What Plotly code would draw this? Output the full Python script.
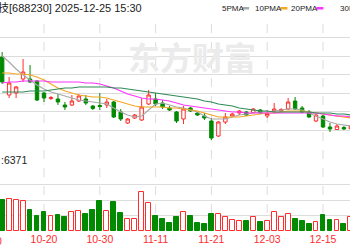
import plotly.graph_objects as go

# ---------------- data ----------------
dates = ["10-10", "10-13", "10-14", "10-15", "10-16", "10-17", "10-20", "10-21", "10-22", "10-23",
         "10-24", "10-27", "10-28", "10-29", "10-30", "10-31", "11-03", "11-04", "11-05", "11-06",
         "11-07", "11-10", "11-11", "11-12", "11-13", "11-14", "11-17", "11-18", "11-19", "11-20",
         "11-21", "11-24", "11-25", "11-26", "11-27", "11-28", "12-01", "12-02", "12-03", "12-04",
         "12-05", "12-08", "12-09", "12-10", "12-11", "12-12", "12-15", "12-16", "12-17", "12-18",
         "12-19"]

open_ = [60.3, 56.5, 56.7, 58.1, 58.1, 57.9, 56.7, 56.15, 56.1, 55.5,
         55.5, 55.9, 56.1, 55.4, 55.45, 55.5, 55.8, 54.8, 53.7, 54.2,
         54.0, 55.6, 56.1, 55.7, 55.2, 54.8, 54.1, 55.2, 54.7, 54.4,
         53.9, 52.4, 53.8, 54.4, 54.7, 54.8, 54.75, 55.0, 54.4, 54.9,
         54.9, 55.1, 55.9, 55.2, 54.8, 53.9, 54.4, 53.3, 53.05, 53.25,
         53.1]
high = [60.8, 58.3, 57.4, 60.1, 59.5, 58.0, 56.8, 56.4, 56.6, 55.8,
        56.5, 56.6, 56.5, 55.5, 56.7, 56.1, 55.9, 55.1, 54.2, 54.6,
        56.2, 57.0, 56.7, 56.0, 55.4, 54.9, 55.4, 55.3, 54.8, 54.7,
        54.2, 53.9, 54.7, 54.7, 55.0, 54.9, 55.2, 55.1, 55.0, 55.7,
        55.2, 56.2, 56.3, 55.4, 55.0, 54.6, 54.5, 53.7, 53.6, 53.4,
        53.5]
low = [57.6, 56.2, 56.2, 57.8, 57.7, 55.9, 55.8, 56.0, 55.5, 55.0,
       55.4, 55.8, 55.5, 55.0, 55.0, 55.2, 54.2, 53.9, 53.6, 54.1,
       53.9, 55.5, 55.4, 55.1, 54.9, 53.7, 53.6, 54.8, 54.4, 54.0,
       52.0, 52.3, 53.6, 54.3, 54.5, 54.4, 54.7, 54.6, 54.2, 54.7,
       54.8, 55.0, 55.0, 54.7, 54.2, 53.8, 53.2, 52.8, 53.0, 53.0,
       53.0]
close = [57.8, 57.7, 57.3, 58.8, 57.8, 56.0, 56.2, 56.25, 55.8, 55.3,
         55.9, 56.4, 55.7, 55.15, 55.35, 55.8, 54.3, 54.1, 54.1, 54.5,
         55.3, 56.5, 55.6, 55.3, 55.0, 53.9, 55.1, 54.9, 54.5, 54.2,
         52.2, 53.8, 54.3, 54.6, 54.9, 54.5, 55.1, 54.7, 54.65, 55.1,
         55.05, 55.8, 55.1, 54.8, 54.3, 54.5, 53.3, 53.1, 53.4, 53.1,
         53.4]

ma5 = [60.4, 59.8, 59.1, 58.5, 58.0, 57.5, 57.1, 56.8, 56.6, 56.4,
       56.2, 56.0, 55.9, 55.8, 55.7, 55.6, 55.2, 54.8, 54.5, 54.3,
       54.4, 55.0, 55.6, 55.7, 55.5, 55.3, 55.2, 55.0, 54.8, 54.4,
       54.1, 54.1, 54.1, 54.3, 54.5, 54.6, 54.7, 54.8, 54.8, 54.9,
       55.0, 55.1, 55.1, 55.0, 54.7, 54.4, 54.1, 53.8, 53.6, 53.5,
       53.4]
ma10 = [58.7, 58.7, 58.6, 58.6, 58.5, 58.3, 58.0, 57.6, 57.2, 56.9,
        56.7, 56.5, 56.4, 56.3, 56.3, 56.2, 56.0, 55.8, 55.6, 55.4,
        55.3, 55.3, 55.3, 55.3, 55.2, 55.2, 55.1, 55.0, 54.9, 54.7,
        54.5, 54.3, 54.3, 54.3, 54.3, 54.4, 54.5, 54.6, 54.7, 54.7,
        54.8, 54.9, 54.9, 54.9, 54.8, 54.7, 54.6, 54.5, 54.4, 54.3,
        54.2]
ma20 = [57.7, 57.8, 57.8, 57.9, 57.9, 57.9, 57.9, 57.8, 57.8, 57.8,
        57.8, 57.8, 57.7, 57.7, 57.6, 57.4, 57.2, 56.9, 56.6, 56.4,
        56.2, 56.1, 56.1, 56.0, 55.9, 55.7, 55.5, 55.4, 55.3, 55.2,
        55.1, 55.0, 54.9, 54.8, 54.8, 54.7, 54.7, 54.7, 54.7, 54.7,
        54.7, 54.7, 54.7, 54.7, 54.7, 54.7, 54.6, 54.5, 54.4, 54.4,
        54.3]
ma30 = [56.8, 56.8, 56.8, 56.8, 56.9, 56.9, 56.9, 57.0, 57.1, 57.2,
        57.2, 57.3, 57.3, 57.3, 57.3, 57.3, 57.2, 57.2, 57.1, 57.0,
        56.9, 56.8, 56.7, 56.6, 56.5, 56.4, 56.3, 56.2, 56.1, 55.9,
        55.8, 55.6, 55.5, 55.4, 55.2, 55.1, 55.0, 54.9, 54.9, 54.8,
        54.8, 54.8, 54.8, 54.8, 54.8, 54.7, 54.7, 54.7, 54.6, 54.6,
        54.5]

volume = [31000, 31700, 31000, 30000, 21000, 15300, 19000, 14700, 16300, 14000,
          19000, 20000, 17300, 21000, 30000, 20000, 29000, 18300, 11700, 11700,
          38700, 28000, 15300, 11700, 8300, 13700, 19000, 14700, 8300, 7000,
          17300, 17300, 13700, 10700, 10000, 10000, 13700, 9300, 10000, 19000,
          13700, 17300, 11700, 10000, 7300, 9000, 15700, 11000, 11000, 7300,
          14000]

tick_labels = ["09-30", "10-20", "10-30", "11-11", "11-21", "12-03", "12-15"]
header_text = "技[688230] 2025-12-25 15:30"
vol_text = ":6371"
legend_names = ["5PMA", "10PMA", "20PMA", "30PMA"]

# ---------------- styling ----------------
RED = "#ff2d2d"
GREEN = "#008a00"
MA_COLORS = ["#a8a8a8", "#f5a623", "#ff33ff", "#2e8b57"]
GRID = "#dcdcdc"
W, H = 350, 250

x = list(range(len(dates)))
x_left = -0.308
x_right = 49.87

P_TOP, P_BOT = 19, 149        # price pane (pixels)
V_TOP, V_BOT = 169, 231       # volume pane (pixels)
price_range = [51.1, 64.1]
vol_range = [0, 62000]


def py(p):
    return 1 - p / H


def px_x(p):
    return p / W


fig = go.Figure()

fig.add_trace(go.Candlestick(
    x=x, open=open_, high=high, low=low, close=close,
    increasing=dict(line=dict(color=RED, width=1), fillcolor="white"),
    decreasing=dict(line=dict(color=GREEN, width=1), fillcolor=GREEN),
    whiskerwidth=0, xaxis="x", yaxis="y", showlegend=False, hoverinfo="skip"))

for vals, col in zip([ma5, ma10, ma20, ma30], MA_COLORS):
    fig.add_trace(go.Scatter(x=x, y=vals, mode="lines", line=dict(color=col, width=1.2),
                             xaxis="x", yaxis="y", showlegend=False, hoverinfo="skip"))

up = [c >= o for o, c in zip(open_, close)]
fig.add_trace(go.Bar(
    x=x, y=volume, width=0.7,
    marker=dict(color=["white" if u else GREEN for u in up],
                line=dict(color=[RED if u else GREEN for u in up], width=1)),
    xaxis="x2", yaxis="y2", showlegend=False, hoverinfo="skip"))

# tick positions (indices of labelled dates)
tick_idx = [dates.index(d) for d in tick_labels if d in dates]
tick_txt = [d for d in tick_labels if d in dates]

common_x = dict(range=[x_left, x_right], showgrid=False, zeroline=False,
                showline=False, fixedrange=True)
fig.update_layout(
    width=W, height=H, margin=dict(l=0, r=0, t=0, b=0),
    paper_bgcolor="white", plot_bgcolor="white",
    bargap=0,
    xaxis=dict(domain=[0, 1], anchor="y", showticklabels=False,
               rangeslider=dict(visible=False), **common_x),
    yaxis=dict(domain=[py(P_BOT), py(P_TOP)], range=price_range, showticklabels=False,
               tickvals=[price_range[0] + i * (price_range[1] - price_range[0]) / 7 for i in range(8)],
               showgrid=True, gridcolor=GRID, gridwidth=1, zeroline=False),
    xaxis2=dict(domain=[0, 1], anchor="y2", tickvals=tick_idx, ticktext=tick_txt,
                ticks="", tickfont=dict(color=RED, size=10.5, family="Liberation Sans"),
                **common_x),
    yaxis2=dict(domain=[py(V_BOT), py(V_TOP)], range=vol_range, showticklabels=False,
                tickvals=[vol_range[1] * i / 4 for i in range(5)],
                showgrid=True, gridcolor=GRID, gridwidth=1, zeroline=False),
)

# vertical dashed grid lines through both panes
for t in tick_idx:
    fig.add_shape(type="line", xref="x", yref="paper", x0=t, x1=t,
                  y0=py(V_BOT), y1=py(P_TOP), line=dict(color=GRID, width=1, dash="dash"),
                  layer="below")

# the first (cut-off) label
first_idx = -2
fig.add_annotation(xref="paper", yref="paper",
                   x=(first_idx - x_left) / (x_right - x_left), y=py(241),
                   text=tick_labels[0], showarrow=False, xanchor="center", yanchor="middle",
                   font=dict(color=RED, size=10.5, family="Liberation Sans"))

# header
fig.add_annotation(xref="paper", yref="paper", x=px_x(-4), y=py(8), text=header_text,
                   showarrow=False, xanchor="left", yanchor="middle",
                   font=dict(size=11, color="#222", family="Liberation Sans, Noto Sans CJK SC"))

# legend
LEG_SIZE = 8
leg_x = [220, 253, 289, 338]
for name, lx, col in zip(legend_names, leg_x, MA_COLORS):
    fig.add_annotation(xref="paper", yref="paper", x=px_x(lx), y=py(8), text=name,
                       showarrow=False, xanchor="left", yanchor="middle",
                       font=dict(size=LEG_SIZE, color="#222", family="Liberation Sans"))
    tw = len(name) * 0.66 * LEG_SIZE
    fig.add_shape(type="rect", xref="paper", yref="paper", x0=px_x(lx + tw + 1),
                  x1=px_x(lx + tw + 8), y0=py(9.5), y1=py(7), fillcolor=col, line=dict(width=0))

# volume label
fig.add_annotation(xref="paper", yref="paper", x=px_x(-1), y=py(160), text=vol_text,
                   showarrow=False, xanchor="left", yanchor="middle",
                   font=dict(size=10.5, color="#222", family="Liberation Sans"))

# watermark
fig.add_annotation(xref="paper", yref="paper", x=px_x(192), y=py(56), text="<b>东方财富</b>",
                   showarrow=False, xanchor="center", yanchor="middle",
                   font=dict(size=32, color="#ebebeb", family="Noto Sans CJK SC"))

fig.write_html("out.html")
